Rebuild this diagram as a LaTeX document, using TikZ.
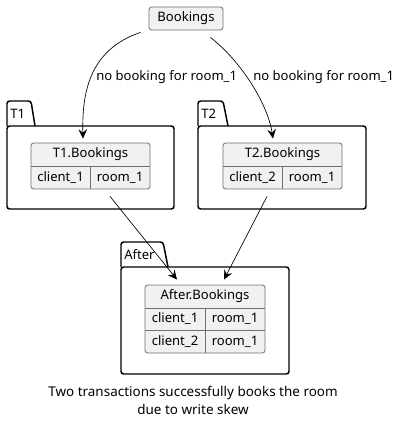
\documentclass[tikz,border=0pt]{standalone}
\usepackage{fontspec}
\setmainfont{Noto Sans}
\usetikzlibrary{arrows.meta}
\definecolor{cellfill}{HTML}{F1F1F1}
\definecolor{cellline}{HTML}{707070}
\tikzset{x=0.75pt, y=-0.75pt,
every node/.style={font=\fontsize{9.8}{14.25}\selectfont, inner sep=0pt},
box/.style={ % tables and the source object
draw=cellline,
fill=cellfill,
line width=0.6pt,
rounded corners=2pt},
pkg/.style={draw, line width=1.1pt, rounded corners=2pt},
cell/.style={draw=cellline, line width=0.6pt},
flow/.style={ % connectors
draw,
-{Stealth[length=7pt, width=6.5pt, inset=2.5pt]},
line width=0.5pt}}

\begin{document}
\begin{tikzpicture}
	\useasboundingbox (0,0) rectangle (400,427);
	% packages
	\draw[pkg] (7,126) -- (7,101) -- (31,101) -- (35,126);
	\draw[pkg] (7,126) rectangle (174,209);
	\node[anchor=west] (t1lab) at (10,114) {T1};
	\draw[pkg] (198,126) -- (198,101) -- (223,101) -- (228,126);
	\draw[pkg] (198,126) rectangle (366,209);
	\node[anchor=west] (t2lab) at (201,114) {T2};
	\draw[pkg] (121,267) -- (121,242) -- (163,242) -- (168,267);
	\draw[pkg] (121,267) rectangle (289,374);
	\node[anchor=west] (aflab) at (124,255) {After};
	% source
	\node[box, minimum width=55.5pt, minimum height=17.25pt] (bk) at (186,18.5) {Bookings};
	% T1 table
	\node[box, minimum width=89.25pt, minimum height=34.5pt] (t1b) at (90.5,166) {};
	\draw[cell] (31,166) -- (150,166) (90,166) -- (90,189);
	\node (t1h) at (90.5,154.5) {T1.Bookings};
	\node (t1c) at (60.5,177.5) {client\_1};
	\node (t1r) at (120,177.5) {room\_1};
	% T2 table
	\node[box, minimum width=89.25pt, minimum height=34.5pt] (t2b) at (282.5,166) {};
	\draw[cell] (223,166) -- (342,166) (282,166) -- (282,189);
	\node (t2h) at (282.5,154.5) {T2.Bookings};
	\node (t2c) at (252.5,177.5) {client\_2};
	\node (t2r) at (312,177.5) {room\_1};
	% After table
	\node[box, minimum width=90pt, minimum height=51pt] (ab) at (205,319) {};
	\draw[cell] (145,308) -- (265,308) (145,330) -- (265,330) (205,308) -- (205,353);
	\node (ah) at (205,296.5) {After.Bookings};
	\node (ac1) at (175,319) {client\_1};
	\node (ar1) at (235,319) {room\_1};
	\node (ac2) at (175,341.5) {client\_2};
	\node (ar2) at (235,341.5) {room\_1};
	% connectors
	\draw[flow] ([shift={(-8,2)}]bk.south west) .. controls (88,50) and (82,95) .. ([shift={(-7.5,-4)}]t1b.north);
	\draw[flow] ([shift={(-13,7)}]bk.south east) .. controls (242,62) and (268,105) .. ([shift={(-9.5,-4)}]t2b.north);
	\node[anchor=west] (l1) at (96,77) {no booking for room\_1};
	\node[anchor=west] (l2) at (253,77) {no booking for room\_1};
	\draw[flow] ([shift={(19.5,7)}]t1b.south) -- ([shift={(-28,-5)}]ab.north);
	\draw[flow] ([shift={(-15.5,7)}]t2b.south) -- ([shift={(19,-5)}]ab.north);
	\node[align=center, font=\fontsize{10.1}{13.5}\selectfont] (cap) at (193,400) {Two transactions successfully books the room\\due to write skew};
\end{tikzpicture}
\end{document}
